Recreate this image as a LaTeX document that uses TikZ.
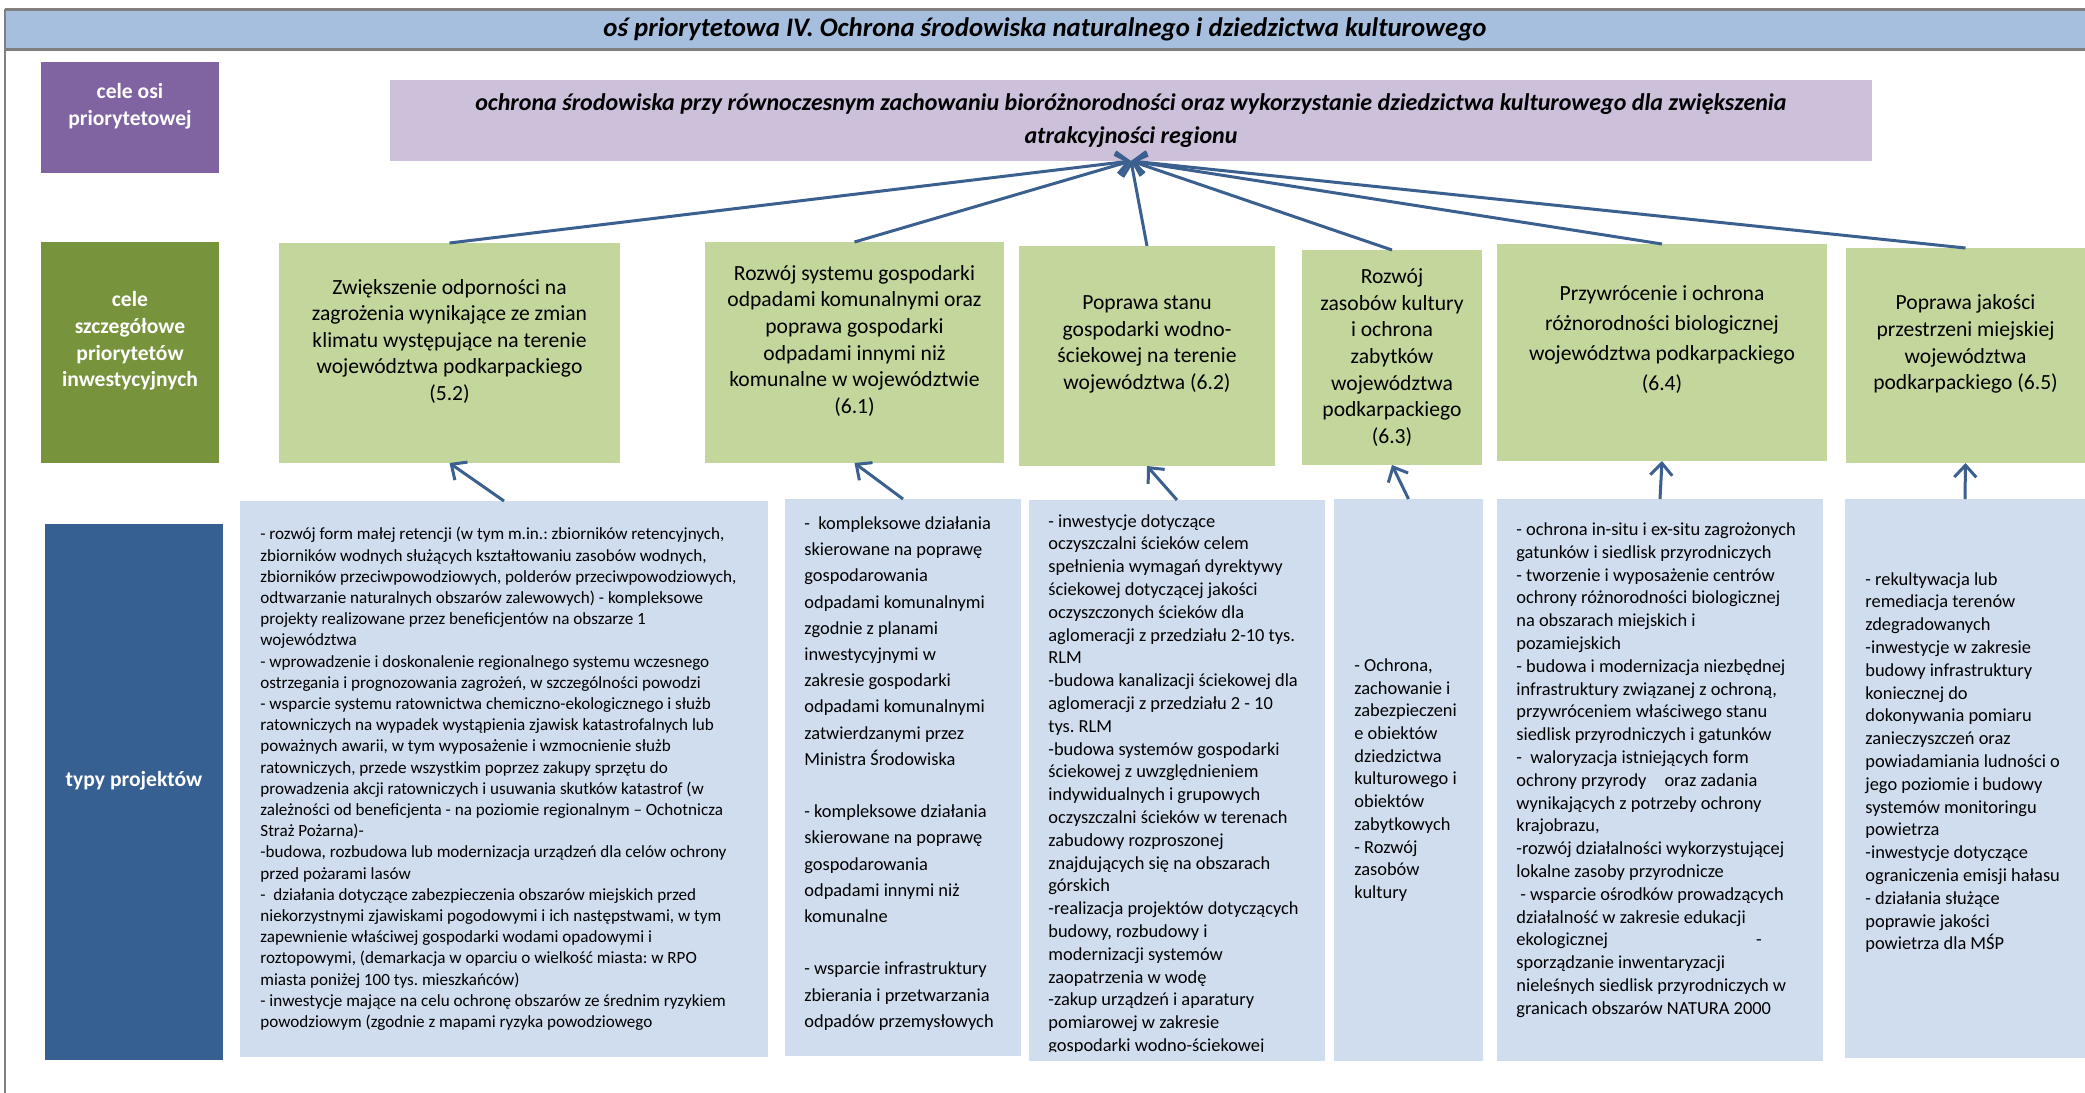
\documentclass[tikz,border=0pt]{standalone}
\usepackage{fontspec}
\setmainfont{Carlito}
\frenchspacing
\usetikzlibrary{arrows.meta}
\definecolor{headblue}{HTML}{A7BFDE}
\definecolor{framegray}{HTML}{808080}
\definecolor{axispurple}{HTML}{8064A2}
\definecolor{goallilac}{HTML}{CCC0DA}
\definecolor{aimgreen}{HTML}{77933C}
\definecolor{aimlight}{HTML}{C3D69B}
\definecolor{typeblue}{HTML}{376092}
\definecolor{typelight}{HTML}{D0DDEE}
\definecolor{arrowblue}{HTML}{3B5F8F}
\tikzset{%
   cell/.style={anchor=north west, inner sep=0pt, outer sep=0pt},
   side/.style={cell, fill=#1, text=white, align=center, minimum width=89pt, font=\fontsize{10.8}{13.3}\selectfont\bfseries},
   aim/.style={cell, fill=aimlight, align=center, font=\fontsize{10.8}{13.3}\selectfont},
   kind/.style={cell, fill=typelight},
   list/.style={anchor=west, inner sep=0pt, align=left, font=\fontsize{9.2}{#1}\selectfont},
   up/.style={draw=arrowblue, line width=1.5pt, -{Straight Barb[length=6pt, width=11pt]}},
}
\begin{document}
\begin{tikzpicture}[x=0.5pt, y=-0.5pt]
   \useasboundingbox (0,0) rectangle (2085,1093);
   \node[cell, fill=headblue, minimum width=1040pt, minimum height=20pt, font=\fontsize{13.4}{15}\selectfont\bfseries\itshape] (axis) at (5,9) {oś priorytetowa IV. Ochrona środowiska naturalnego i dziedzictwa kulturowego};
   \coordinate (foot) at (5,1093);
   \draw[framegray, line width=1.5pt] (axis.north west) -- (axis.north east) (axis.south west) -- (axis.south east);
   \draw[framegray, line width=1pt] (axis.north west) -- (foot);

   \node[side=axispurple, minimum height=55.5pt] (celeosi) at (41,62) {cele osi\\priorytetowej\\~};
   \node[cell, fill=goallilac, minimum width=741pt, minimum height=40.5pt, align=center, font=\fontsize{12}{16.6}\selectfont\bfseries\itshape] (goal) at (390,80)
      {ochrona środowiska przy równoczesnym zachowaniu bioróżnorodności oraz wykorzystanie dziedzictwa kulturowego dla zwiększenia\\atrakcyjności regionu};
   \node[side=aimgreen, minimum height=110.5pt] (celeszcz) at (41,242) {cele\\szczegółowe\\priorytetów\\inwestycyjnych\\~};
   \node[side=typeblue, minimum height=268pt] (typy) at (45,524) {typy projektów\\~};

   \node[aim, minimum width=170.5pt, minimum height=110pt] (p52) at (279,243) {Zwiększenie odporności na\\zagrożenia wynikające ze zmian\\klimatu występujące na terenie\\województwa podkarpackiego\\(5.2)\\~};
   \node[aim, minimum width=149.5pt, minimum height=110.5pt] (p61) at (705,242) {Rozwój systemu gospodarki\\odpadami komunalnymi oraz\\poprawa gospodarki\\odpadami innymi niż\\komunalne w województwie\\(6.1)\\~};
   \node[aim, minimum width=128pt, minimum height=110pt] (p62) at (1019,246) {Poprawa stanu\\gospodarki wodno-\\ściekowej na terenie\\województwa (6.2)\\~};
   \node[aim, minimum width=90pt, minimum height=107.5pt] (p63) at (1302,250) {Rozwój\\zasobów kultury\\i ochrona\\zabytków\\województwa\\podkarpackiego\\(6.3)};
   \node[aim, minimum width=165pt, minimum height=108.5pt, font=\fontsize{10.8}{15}\selectfont] (p64) at (1497,244) {Przywrócenie i ochrona\\różnorodności biologicznej\\województwa podkarpackiego\\(6.4)\\~};
   \node[aim, minimum width=119.5pt, minimum height=107.5pt] (p65) at (1846,248) {Poprawa jakości\\przestrzeni miejskiej\\województwa\\podkarpackiego (6.5)\\~};

   \node[kind, minimum width=264pt, minimum height=278pt] (t52) at (240,501) {};
   \node[list=10.6, font=\fontsize{8.55}{10.6}\selectfont] (t52list) at ([xshift=10pt]t52.west)
      {- rozwój form małej retencji (w tym m.in.: zbiorników retencyjnych,\\
       zbiorników wodnych służących kształtowaniu zasobów wodnych,\\
       zbiorników przeciwpowodziowych, polderów przeciwpowodziowych,\\
       odtwarzanie naturalnych obszarów zalewowych) - kompleksowe\\
       projekty realizowane przez beneficjentów na obszarze 1\\
       województwa\\
       - wprowadzenie i doskonalenie regionalnego systemu wczesnego\\
       ostrzegania i prognozowania zagrożeń, w szczególności powodzi\\
       - wsparcie systemu ratownictwa chemiczno-ekologicznego i służb\\
       ratowniczych na wypadek wystąpienia zjawisk katastrofalnych lub\\
       poważnych awarii, w tym wyposażenie i wzmocnienie służb\\
       ratowniczych, przede wszystkim poprzez zakupy sprzętu do\\
       prowadzenia akcji ratowniczych i usuwania skutków katastrof (w\\
       zależności od beneficjenta - na poziomie regionalnym – Ochotnicza\\
       Straż Pożarna)-\\
       -budowa, rozbudowa lub modernizacja urządzeń dla celów ochrony\\
       przed pożarami lasów\\
       -\ \ działania dotyczące zabezpieczenia obszarów miejskich przed\\
       niekorzystnymi zjawiskami pogodowymi i ich następstwami, w tym\\
       zapewnienie właściwej gospodarki wodami opadowymi i\\
       roztopowymi, (demarkacja w oparciu o wielkość miasta: w RPO\\
       miasta poniżej 100 tys. mieszkańców)\\
       - inwestycje mające na celu ochronę obszarów ze średnim ryzykiem\\
       powodziowym (zgodnie z mapami ryzyka powodziowego};

   \node[kind, minimum width=118pt, minimum height=278.5pt] (t61) at (785,499) {};
   \node[list=13.1] (t61list) at ([xshift=9.5pt, yshift=2pt]t61.west)
      {-\ \ kompleksowe działania\\
       skierowane na poprawę\\
       gospodarowania\\
       odpadami komunalnymi\\
       zgodnie z planami\\
       inwestycyjnymi w\\
       zakresie gospodarki\\
       odpadami komunalnymi\\
       zatwierdzanymi przez\\
       Ministra Środowiska\\[13.1pt]
       - kompleksowe działania\\
       skierowane na poprawę\\
       gospodarowania\\
       odpadami innymi niż\\
       komunalne\\[13.1pt]
       - wsparcie infrastruktury\\
       zbierania i przetwarzania\\
       odpadów przemysłowych};

   \node[kind, minimum width=148pt, minimum height=280.5pt] (t62) at (1029,500) {};
   \begin{scope}
      \clip (t62.north west) rectangle ([yshift=5pt]t62.south east);
      \node[list=11.4, anchor=north west] (t62list) at ([xshift=9.5pt, yshift=-7pt]t62.north west)
         {- inwestycje dotyczące\\
          oczyszczalni ścieków celem\\
          spełnienia wymagań dyrektywy\\
          ściekowej dotyczącej jakości\\
          oczyszczonych ścieków dla\\
          aglomeracji z przedziału 2-10 tys.\\
          RLM\\
          -budowa kanalizacji ściekowej dla\\
          aglomeracji z przedziału 2 - 10\\
          tys. RLM\\
          -budowa systemów gospodarki\\
          ściekowej z uwzględnieniem\\
          indywidualnych i grupowych\\
          oczyszczalni ścieków w terenach\\
          zabudowy rozproszonej\\
          znajdujących się na obszarach\\
          górskich\\
          -realizacja projektów dotyczących\\
          budowy, rozbudowy i\\
          modernizacji systemów\\
          zaopatrzenia w wodę\\
          -zakup urządzeń i aparatury\\
          pomiarowej w zakresie\\
          gospodarki wodno-ściekowej};
   \end{scope}

   \node[kind, minimum width=74.5pt, minimum height=281pt] (t63) at (1334,499) {};
   \node[list=11.35] (t63list) at ([xshift=10pt]t63.west)
      {- Ochrona,\\
       zachowanie i\\
       zabezpieczeni\\
       e obiektów\\
       dziedzictwa\\
       kulturowego i\\
       obiektów\\
       zabytkowych\\
       - Rozwój\\
       zasobów\\
       kultury};

   \node[kind, minimum width=163pt, minimum height=281pt] (t64) at (1497,499) {};
   \node[list=11.4] (t64list) at ([xshift=9.5pt, yshift=5pt]t64.west)
      {- ochrona in-situ i ex-situ zagrożonych\\
       gatunków i siedlisk przyrodniczych\\
       - tworzenie i wyposażenie centrów\\
       ochrony różnorodności biologicznej\\
       na obszarach miejskich i\\
       pozamiejskich\\
       - budowa i modernizacja niezbędnej\\
       infrastruktury związanej z ochroną,\\
       przywróceniem właściwego stanu\\
       siedlisk przyrodniczych i gatunków\\
       -\ \ waloryzacja istniejących form\\
       ochrony przyrody\hspace{9pt}oraz zadania\\
       wynikających z potrzeby ochrony\\
       krajobrazu,\\
       -rozwój działalności wykorzystującej\\
       lokalne zasoby przyrodnicze\\
       \hspace*{2pt}- wsparcie ośrodków prowadzących\\
       działalność w zakresie edukacji\\
       ekologicznej\hspace{74pt}-\\
       sporządzanie inwentaryzacji\\
       nieleśnych siedlisk przyrodniczych w\\
       granicach obszarów NATURA 2000};

   \node[kind, minimum width=120pt, minimum height=279.5pt] (t65) at (1845,499) {};
   \node[list=11.4] (t65list) at ([xshift=10pt, yshift=8pt]t65.west)
      {- rekultywacja lub\\
       remediacja terenów\\
       zdegradowanych\\
       -inwestycje w zakresie\\
       budowy infrastruktury\\
       koniecznej do\\
       dokonywania pomiaru\\
       zanieczyszczeń oraz\\
       powiadamiania ludności o\\
       jego poziomie i budowy\\
       systemów monitoringu\\
       powietrza\\
       -inwestycje dotyczące\\
       ograniczenia emisji hałasu\\
       - działania służące\\
       poprawie jakości\\
       powietrza dla MŚP};

   \foreach \p in {p52,p61,p62,p63,p64,p65}
      \draw[up] (\p.north) -- (goal.south);
   \foreach \t/\p in {t52/p52,t61/p61,t62/p62,t63/p63,t64/p64,t65/p65}
      \draw[up] (\t.north) -- (\p.south);
\end{tikzpicture}
\end{document}
